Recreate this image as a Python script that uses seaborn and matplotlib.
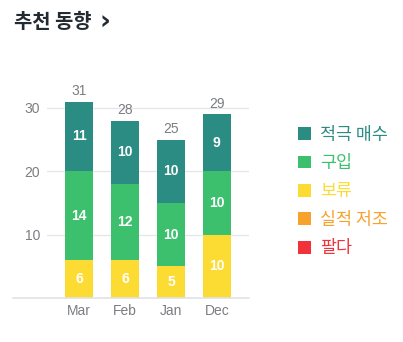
import matplotlib
matplotlib.use("Agg")
import matplotlib.pyplot as plt
from matplotlib.patches import Patch
import seaborn as sns
import pandas as pd

months = ["Mar", "Feb", "Jan", "Dec"]
strong_buy = [11, 10, 10, 9]
buy = [14, 12, 10, 10]
hold = [6, 6, 5, 10]
underperform = [0, 0, 0, 0]
sell = [0, 0, 0, 0]
series_names = ["적극 매수", "구입", "보류", "실적 저조", "팔다"]
series_colors = ["#2b8c83", "#3dc06e", "#fcdb33", "#f8a22e", "#f1323a"]
y_ticks = [10, 20, 30]

sns.set_theme(style="white")
plt.rcParams["font.family"] = ["Liberation Sans", "Noto Sans CJK KR", "DejaVu Sans"]

df = pd.DataFrame({"month": months, "strong_buy": strong_buy, "buy": buy,
                   "hold": hold, "underperform": underperform, "sell": sell})
df["c_sell"] = df["sell"]
df["c_under"] = df["c_sell"] + df["underperform"]
df["c_hold"] = df["c_under"] + df["hold"]
df["c_buy"] = df["c_hold"] + df["buy"]
df["c_strong"] = df["c_buy"] + df["strong_buy"]

W, H = 403, 342
fig = plt.figure(figsize=(W / 100, H / 100), dpi=100)
ax = fig.add_axes([47 / W, 1 - 298 / H, 202 / W, (298 - 76.3) / H])

bw = 28 / 46
for col, color in [("c_strong", series_colors[0]), ("c_buy", series_colors[1]),
                   ("c_hold", series_colors[2]), ("c_under", series_colors[3]),
                   ("c_sell", series_colors[4])]:
    sns.barplot(data=df, x="month", y=col, color=color, saturation=1,
                width=bw, ax=ax, order=months, edgecolor="none", linewidth=0, zorder=3)

ax.set_xlim(-0.70, 3.70)
ax.set_ylim(0, 35)
for s in ax.spines.values():
    s.set_visible(False)
ax.set_yticks(y_ticks)
ax.set_yticklabels([str(t) for t in y_ticks])
ax.yaxis.grid(True, color="#e6e7eb", linewidth=1, zorder=0)
ax.xaxis.grid(False)
ax.axhline(0, xmin=-34 / 202, xmax=1, color="#dfe1e6", linewidth=1.2, clip_on=False, zorder=4)
ax.tick_params(axis="y", length=0, pad=5, labelsize=10, labelcolor="#7b7d82")
ax.tick_params(axis="x", length=0, pad=4.5, labelsize=10, labelcolor="#7b7d82")
ax.set_xlabel("")
ax.set_ylabel("")

# segment labels
for i in range(len(months)):
    segs = [(hold[i], df["c_under"][i]), (buy[i], df["c_hold"][i]), (strong_buy[i], df["c_buy"][i])]
    for v, b in segs:
        if v > 0:
            ax.text(i, b + v / 2, str(v), ha="center", va="center", color="white",
                    fontsize=10, fontweight="bold", zorder=5)
    ax.annotate(str(int(df["c_strong"][i])), (i, df["c_strong"][i]), xytext=(0, 2.5),
                textcoords="offset points", ha="center", va="bottom",
                color="#7b7d82", fontsize=10, annotation_clip=False)

# title
fig.text(14 / W, 1 - 22 / H, "추천 동향", ha="left", va="center", fontsize=14.3,
         fontweight="bold", color="#232a31", family=["Noto Sans CJK KR"])
fig.text(99 / W, 1 - 23 / H, "›", ha="left", va="center", fontsize=19,
         fontweight="bold", color="#232a31", family=["DejaVu Sans"])

handles = [Patch(facecolor=c, edgecolor="none") for c in series_colors]
leg = fig.legend(handles, series_names, loc="upper left",
                 bbox_to_anchor=(282 / W, 1 - 110 / H), frameon=False,
                 handlelength=0.75, handleheight=0.75, handletextpad=0.52,
                 labelspacing=0.6, labelcolor=series_colors,
                 prop={"family": "Noto Sans CJK KR", "size": 12.5})

fig.savefig("out.png", dpi=100, facecolor="white")
